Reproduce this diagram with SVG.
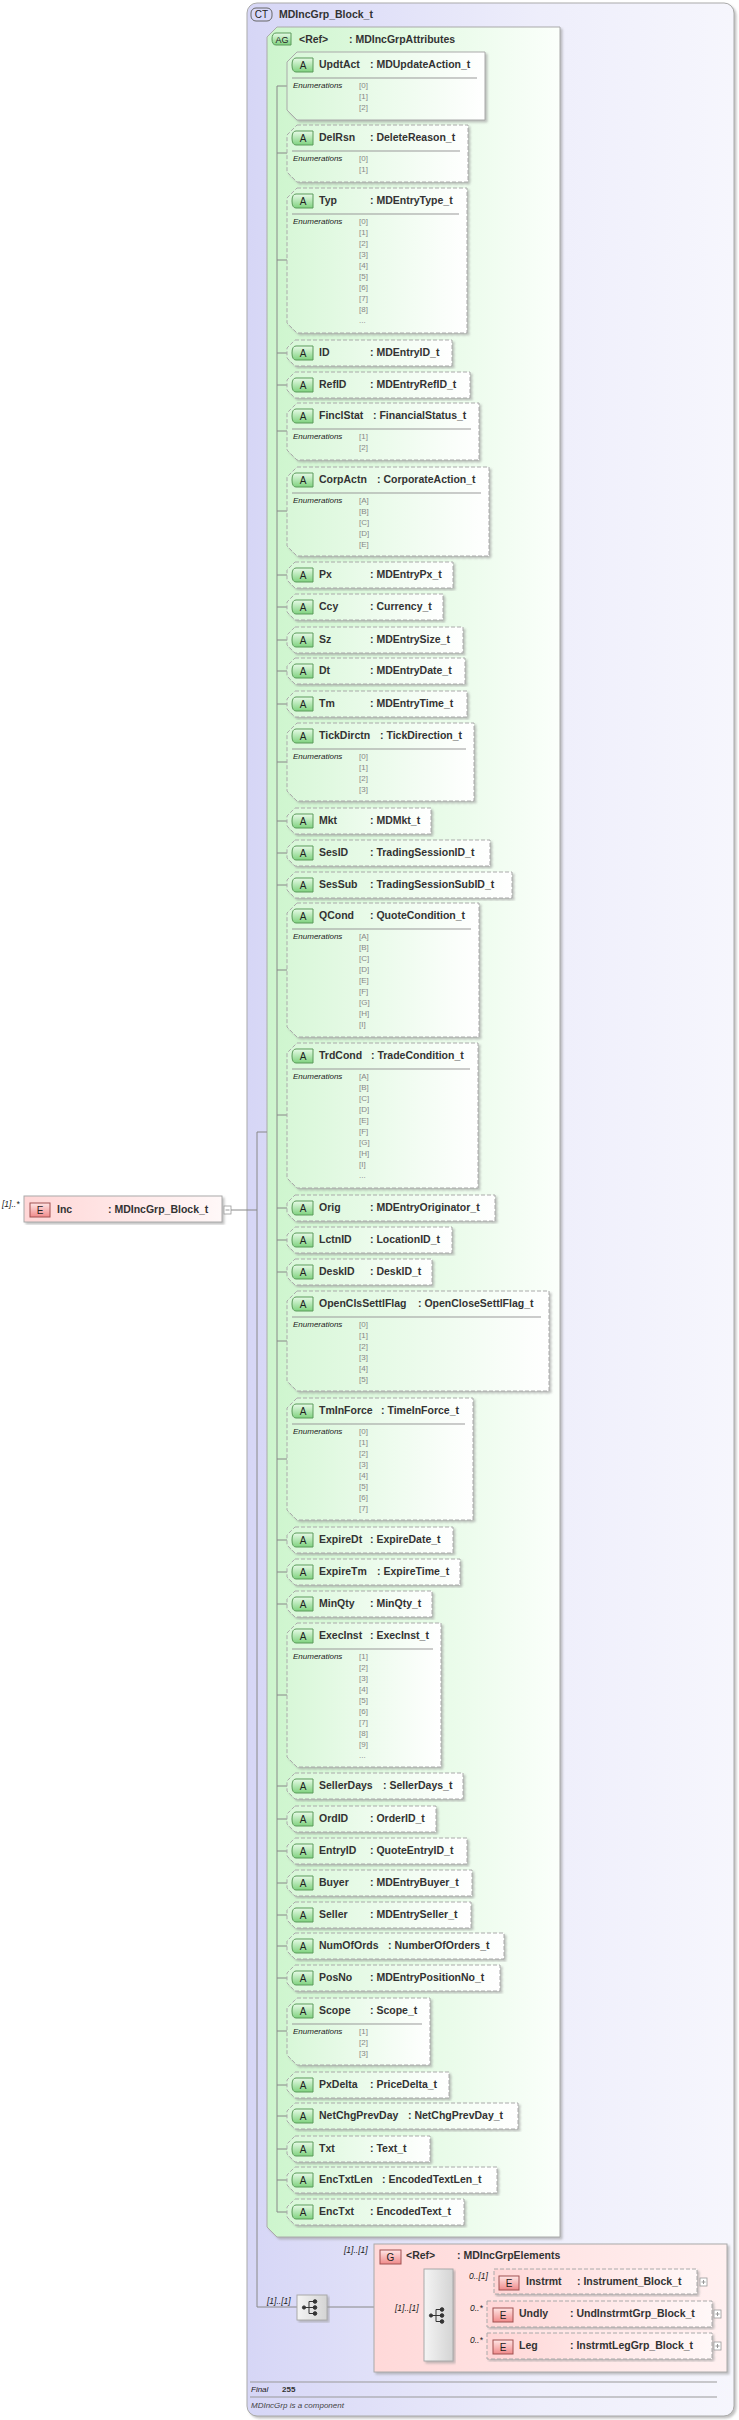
<svg xmlns="http://www.w3.org/2000/svg" width="739" height="2420" viewBox="0 0 739 2420">
<defs>
<linearGradient id="gct" x1="0" y1="0" x2="1" y2="0"><stop offset="0" stop-color="#d6d6f6"/><stop offset="0.6" stop-color="#eeeefb"/><stop offset="1" stop-color="#f6f6fd"/></linearGradient>
<linearGradient id="gag" x1="0" y1="0" x2="1" y2="0"><stop offset="0" stop-color="#cdf5cd"/><stop offset="1" stop-color="#fbfffb"/></linearGradient>
<linearGradient id="ga" x1="0" y1="0" x2="1" y2="0"><stop offset="0" stop-color="#d8f7d8"/><stop offset="1" stop-color="#ffffff"/></linearGradient>
<linearGradient id="gb" x1="0" y1="0" x2="0" y2="1"><stop offset="0" stop-color="#e8fbe8"/><stop offset="1" stop-color="#7fd27f"/></linearGradient>
<linearGradient id="ge" x1="0" y1="0" x2="1" y2="0"><stop offset="0" stop-color="#ffd6d6"/><stop offset="1" stop-color="#fff8f8"/></linearGradient>
<linearGradient id="geb" x1="0" y1="0" x2="0" y2="1"><stop offset="0" stop-color="#ffe6e6"/><stop offset="1" stop-color="#f08a8a"/></linearGradient>
<linearGradient id="gg" x1="0" y1="0" x2="1" y2="0"><stop offset="0" stop-color="#ffd9d9"/><stop offset="1" stop-color="#fff0f0"/></linearGradient>
<linearGradient id="gs" x1="0" y1="0" x2="1" y2="0"><stop offset="0" stop-color="#f4f4f4"/><stop offset="1" stop-color="#d4d4d4"/></linearGradient>
<filter id="sh" x="-5%" y="-5%" width="115%" height="115%"><feDropShadow dx="2" dy="2" stdDeviation="0.8" flood-color="#999" flood-opacity="0.6"/></filter>
</defs>
<style>
.ab{fill:url(#ga);stroke:#aaa;stroke-width:1;stroke-dasharray:4,2;filter:url(#sh)}
.abs{fill:url(#ga);stroke:#aaa;stroke-width:1;filter:url(#sh)}
.badge{fill:url(#gb);stroke:#5a9a5a;stroke-width:1}
.bt{font-family:"Liberation Sans",Arial,sans-serif;font-size:10px;fill:#222;text-anchor:middle}
.nm{font-family:"Liberation Sans",Arial,sans-serif;font-size:10.5px;font-weight:bold;fill:#333}
.sep{stroke:#999;stroke-width:1}
.en{font-family:"Liberation Sans",Arial,sans-serif;font-size:8px;font-style:italic;fill:#222}
.ev{font-family:"Liberation Sans",Arial,sans-serif;font-size:8px;fill:#888}
.cn{fill:none;stroke:#888;stroke-width:1}
.lb{font-family:"Liberation Sans",Arial,sans-serif;font-size:8.5px;font-style:italic;fill:#222}
.eb{fill:url(#ge);stroke:#aaa;stroke-width:1;stroke-dasharray:4,2;filter:url(#sh)}
.ebs{fill:url(#ge);stroke:#aaa;stroke-width:1;filter:url(#sh)}
.ebadge{fill:url(#geb);stroke:#a05050;stroke-width:1}
.pl{fill:#fff;stroke:#999;stroke-width:0.8}
</style>

<g id="ct">
<rect x="247" y="3" width="487" height="2413" rx="10" fill="url(#gct)" stroke="#aaa" filter="url(#sh)"/>
<rect x="251" y="8" width="21" height="13" rx="5" fill="#d8d8f8" stroke="#666"/>
<text class="bt" x="261.5" y="18">CT</text>
<text class="nm" x="279" y="18">MDIncGrp_Block_t</text>
<line class="sep" x1="250" y1="2382" x2="717" y2="2382"/>
<text class="en" x="251" y="2392">Final</text><text class="ev" x="282" y="2392" style="fill:#333;font-weight:bold">255</text>
<line class="sep" x1="250" y1="2397" x2="717" y2="2397"/>
<text class="en" x="251" y="2408" style="fill:#444">MDIncGrp is a component</text>
</g>

<g id="ag">
<path d="M277,27H560V2237H277L267,2227V37Z" fill="url(#gag)" stroke="#aaa" filter="url(#sh)"/>
<path d="M276,33H291V45H276Q272,45 272,39Q272,33 276,33Z" class="badge"/>
<text class="bt" x="282" y="43" style="font-size:9px">AG</text>
<text class="nm" x="299" y="43">&lt;Ref&gt;</text>
<text class="nm" x="349" y="43">: MDIncGrpAttributes</text>
</g>

<g id="connectors">
<path class="cn" d="M231,1210H257M257,1132V2307H297M267,1132H257M327,2307H374M374,2315H424M453,2282H494M453,2314H487M453,2346H487"/>
<path class="cn" d="M277,86V2212"/>
<path class="cn" d="M277,86h10M277,153h10M277,260h10M277,353h10M277,385h10M277,431h10M277,511h10M277,575h10M277,607h10M277,640h10M277,671h10M277,704h10M277,762h10M277,821h10M277,853h10M277,885h10M277,970h10M277,1115h10M277,1208h10M277,1240h10M277,1272h10M277,1341h10M277,1459h10M277,1540h10M277,1572h10M277,1604h10M277,1695h10M277,1786h10M277,1819h10M277,1851h10M277,1883h10M277,1915h10M277,1946h10M277,1978h10M277,2031h10M277,2085h10M277,2116h10M277,2149h10M277,2180h10M277,2212h10"/>
</g>

<g id="inc">
<text class="lb" x="2" y="1207">[1]..*</text>
<rect x="24" y="1196" width="198" height="26" class="ebs"/>
<rect x="30" y="1203" width="20" height="14" class="ebadge"/>
<text class="bt" x="40" y="1214">E</text>
<text class="nm" x="57" y="1213">Inc</text>
<text class="nm" x="108" y="1213">: MDIncGrp_Block_t</text>
<rect x="224" y="1206" width="7" height="8" class="pl"/><line x1="225.5" y1="1210" x2="229.5" y2="1210" stroke="#999"/>
</g>

<g id="a-UpdtAct" transform="translate(287,52)"><path class="abs" d="M10,0H198V68H10L0,58V10Z"/><path class="badge" d="M9,6H26V20H9Q5,20 5,13Q5,6 9,6Z"/><text class="bt" x="16" y="17">A</text><text class="nm" x="32" y="16">UpdtAct</text><text class="nm" x="83" y="16">: MDUpdateAction_t</text><line class="sep" x1="5" y1="26" x2="190" y2="26"/><text class="en" x="6" y="36">Enumerations</text><text class="ev" y="36"><tspan x="72">[0]</tspan><tspan x="72" dy="11">[1]</tspan><tspan x="72" dy="11">[2]</tspan></text></g>
<g id="a-DelRsn" transform="translate(287,125)"><path class="ab" d="M10,0H181V57H10L0,47V10Z"/><path class="badge" d="M9,6H26V20H9Q5,20 5,13Q5,6 9,6Z"/><text class="bt" x="16" y="17">A</text><text class="nm" x="32" y="16">DelRsn</text><text class="nm" x="83" y="16">: DeleteReason_t</text><line class="sep" x1="5" y1="26" x2="173" y2="26"/><text class="en" x="6" y="36">Enumerations</text><text class="ev" y="36"><tspan x="72">[0]</tspan><tspan x="72" dy="11">[1]</tspan></text></g>
<g id="a-Typ" transform="translate(287,188)"><path class="ab" d="M10,0H180V145H10L0,135V10Z"/><path class="badge" d="M9,6H26V20H9Q5,20 5,13Q5,6 9,6Z"/><text class="bt" x="16" y="17">A</text><text class="nm" x="32" y="16">Typ</text><text class="nm" x="83" y="16">: MDEntryType_t</text><line class="sep" x1="5" y1="26" x2="172" y2="26"/><text class="en" x="6" y="36">Enumerations</text><text class="ev" y="36"><tspan x="72">[0]</tspan><tspan x="72" dy="11">[1]</tspan><tspan x="72" dy="11">[2]</tspan><tspan x="72" dy="11">[3]</tspan><tspan x="72" dy="11">[4]</tspan><tspan x="72" dy="11">[5]</tspan><tspan x="72" dy="11">[6]</tspan><tspan x="72" dy="11">[7]</tspan><tspan x="72" dy="11">[8]</tspan><tspan x="72" dy="11">...</tspan></text></g>
<g id="a-ID" transform="translate(287,340)"><path class="ab" d="M8,0H165V26H8L0,18V8Z"/><path class="badge" d="M9,6H26V20H9Q5,20 5,13Q5,6 9,6Z"/><text class="bt" x="16" y="17">A</text><text class="nm" x="32" y="16">ID</text><text class="nm" x="83" y="16">: MDEntryID_t</text></g>
<g id="a-RefID" transform="translate(287,372)"><path class="ab" d="M8,0H183V26H8L0,18V8Z"/><path class="badge" d="M9,6H26V20H9Q5,20 5,13Q5,6 9,6Z"/><text class="bt" x="16" y="17">A</text><text class="nm" x="32" y="16">RefID</text><text class="nm" x="83" y="16">: MDEntryRefID_t</text></g>
<g id="a-FinclStat" transform="translate(287,403)"><path class="ab" d="M10,0H192V57H10L0,47V10Z"/><path class="badge" d="M9,6H26V20H9Q5,20 5,13Q5,6 9,6Z"/><text class="bt" x="16" y="17">A</text><text class="nm" x="32" y="16">FinclStat</text><text class="nm" x="86" y="16">: FinancialStatus_t</text><line class="sep" x1="5" y1="26" x2="184" y2="26"/><text class="en" x="6" y="36">Enumerations</text><text class="ev" y="36"><tspan x="72">[1]</tspan><tspan x="72" dy="11">[2]</tspan></text></g>
<g id="a-CorpActn" transform="translate(287,467)"><path class="ab" d="M10,0H202V89H10L0,79V10Z"/><path class="badge" d="M9,6H26V20H9Q5,20 5,13Q5,6 9,6Z"/><text class="bt" x="16" y="17">A</text><text class="nm" x="32" y="16">CorpActn</text><text class="nm" x="90" y="16">: CorporateAction_t</text><line class="sep" x1="5" y1="26" x2="194" y2="26"/><text class="en" x="6" y="36">Enumerations</text><text class="ev" y="36"><tspan x="72">[A]</tspan><tspan x="72" dy="11">[B]</tspan><tspan x="72" dy="11">[C]</tspan><tspan x="72" dy="11">[D]</tspan><tspan x="72" dy="11">[E]</tspan></text></g>
<g id="a-Px" transform="translate(287,562)"><path class="ab" d="M8,0H166V26H8L0,18V8Z"/><path class="badge" d="M9,6H26V20H9Q5,20 5,13Q5,6 9,6Z"/><text class="bt" x="16" y="17">A</text><text class="nm" x="32" y="16">Px</text><text class="nm" x="83" y="16">: MDEntryPx_t</text></g>
<g id="a-Ccy" transform="translate(287,594)"><path class="ab" d="M8,0H156V26H8L0,18V8Z"/><path class="badge" d="M9,6H26V20H9Q5,20 5,13Q5,6 9,6Z"/><text class="bt" x="16" y="17">A</text><text class="nm" x="32" y="16">Ccy</text><text class="nm" x="83" y="16">: Currency_t</text></g>
<g id="a-Sz" transform="translate(287,627)"><path class="ab" d="M8,0H176V26H8L0,18V8Z"/><path class="badge" d="M9,6H26V20H9Q5,20 5,13Q5,6 9,6Z"/><text class="bt" x="16" y="17">A</text><text class="nm" x="32" y="16">Sz</text><text class="nm" x="83" y="16">: MDEntrySize_t</text></g>
<g id="a-Dt" transform="translate(287,658)"><path class="ab" d="M8,0H178V26H8L0,18V8Z"/><path class="badge" d="M9,6H26V20H9Q5,20 5,13Q5,6 9,6Z"/><text class="bt" x="16" y="17">A</text><text class="nm" x="32" y="16">Dt</text><text class="nm" x="83" y="16">: MDEntryDate_t</text></g>
<g id="a-Tm" transform="translate(287,691)"><path class="ab" d="M8,0H180V26H8L0,18V8Z"/><path class="badge" d="M9,6H26V20H9Q5,20 5,13Q5,6 9,6Z"/><text class="bt" x="16" y="17">A</text><text class="nm" x="32" y="16">Tm</text><text class="nm" x="83" y="16">: MDEntryTime_t</text></g>
<g id="a-TickDirctn" transform="translate(287,723)"><path class="ab" d="M10,0H187V78H10L0,68V10Z"/><path class="badge" d="M9,6H26V20H9Q5,20 5,13Q5,6 9,6Z"/><text class="bt" x="16" y="17">A</text><text class="nm" x="32" y="16">TickDirctn</text><text class="nm" x="93" y="16">: TickDirection_t</text><line class="sep" x1="5" y1="26" x2="179" y2="26"/><text class="en" x="6" y="36">Enumerations</text><text class="ev" y="36"><tspan x="72">[0]</tspan><tspan x="72" dy="11">[1]</tspan><tspan x="72" dy="11">[2]</tspan><tspan x="72" dy="11">[3]</tspan></text></g>
<g id="a-Mkt" transform="translate(287,808)"><path class="ab" d="M8,0H144V26H8L0,18V8Z"/><path class="badge" d="M9,6H26V20H9Q5,20 5,13Q5,6 9,6Z"/><text class="bt" x="16" y="17">A</text><text class="nm" x="32" y="16">Mkt</text><text class="nm" x="83" y="16">: MDMkt_t</text></g>
<g id="a-SesID" transform="translate(287,840)"><path class="ab" d="M8,0H203V26H8L0,18V8Z"/><path class="badge" d="M9,6H26V20H9Q5,20 5,13Q5,6 9,6Z"/><text class="bt" x="16" y="17">A</text><text class="nm" x="32" y="16">SesID</text><text class="nm" x="83" y="16">: TradingSessionID_t</text></g>
<g id="a-SesSub" transform="translate(287,872)"><path class="ab" d="M8,0H225V26H8L0,18V8Z"/><path class="badge" d="M9,6H26V20H9Q5,20 5,13Q5,6 9,6Z"/><text class="bt" x="16" y="17">A</text><text class="nm" x="32" y="16">SesSub</text><text class="nm" x="83" y="16">: TradingSessionSubID_t</text></g>
<g id="a-QCond" transform="translate(287,903)"><path class="ab" d="M10,0H192V134H10L0,124V10Z"/><path class="badge" d="M9,6H26V20H9Q5,20 5,13Q5,6 9,6Z"/><text class="bt" x="16" y="17">A</text><text class="nm" x="32" y="16">QCond</text><text class="nm" x="83" y="16">: QuoteCondition_t</text><line class="sep" x1="5" y1="26" x2="184" y2="26"/><text class="en" x="6" y="36">Enumerations</text><text class="ev" y="36"><tspan x="72">[A]</tspan><tspan x="72" dy="11">[B]</tspan><tspan x="72" dy="11">[C]</tspan><tspan x="72" dy="11">[D]</tspan><tspan x="72" dy="11">[E]</tspan><tspan x="72" dy="11">[F]</tspan><tspan x="72" dy="11">[G]</tspan><tspan x="72" dy="11">[H]</tspan><tspan x="72" dy="11">[I]</tspan></text></g>
<g id="a-TrdCond" transform="translate(287,1043)"><path class="ab" d="M10,0H191V145H10L0,135V10Z"/><path class="badge" d="M9,6H26V20H9Q5,20 5,13Q5,6 9,6Z"/><text class="bt" x="16" y="17">A</text><text class="nm" x="32" y="16">TrdCond</text><text class="nm" x="84" y="16">: TradeCondition_t</text><line class="sep" x1="5" y1="26" x2="183" y2="26"/><text class="en" x="6" y="36">Enumerations</text><text class="ev" y="36"><tspan x="72">[A]</tspan><tspan x="72" dy="11">[B]</tspan><tspan x="72" dy="11">[C]</tspan><tspan x="72" dy="11">[D]</tspan><tspan x="72" dy="11">[E]</tspan><tspan x="72" dy="11">[F]</tspan><tspan x="72" dy="11">[G]</tspan><tspan x="72" dy="11">[H]</tspan><tspan x="72" dy="11">[I]</tspan><tspan x="72" dy="11">...</tspan></text></g>
<g id="a-Orig" transform="translate(287,1195)"><path class="ab" d="M8,0H208V26H8L0,18V8Z"/><path class="badge" d="M9,6H26V20H9Q5,20 5,13Q5,6 9,6Z"/><text class="bt" x="16" y="17">A</text><text class="nm" x="32" y="16">Orig</text><text class="nm" x="83" y="16">: MDEntryOriginator_t</text></g>
<g id="a-LctnID" transform="translate(287,1227)"><path class="ab" d="M8,0H165V26H8L0,18V8Z"/><path class="badge" d="M9,6H26V20H9Q5,20 5,13Q5,6 9,6Z"/><text class="bt" x="16" y="17">A</text><text class="nm" x="32" y="16">LctnID</text><text class="nm" x="83" y="16">: LocationID_t</text></g>
<g id="a-DeskID" transform="translate(287,1259)"><path class="ab" d="M8,0H145V26H8L0,18V8Z"/><path class="badge" d="M9,6H26V20H9Q5,20 5,13Q5,6 9,6Z"/><text class="bt" x="16" y="17">A</text><text class="nm" x="32" y="16">DeskID</text><text class="nm" x="83" y="16">: DeskID_t</text></g>
<g id="a-OpenClsSettlFlag" transform="translate(287,1291)"><path class="ab" d="M10,0H262V100H10L0,90V10Z"/><path class="badge" d="M9,6H26V20H9Q5,20 5,13Q5,6 9,6Z"/><text class="bt" x="16" y="17">A</text><text class="nm" x="32" y="16">OpenClsSettlFlag</text><text class="nm" x="131" y="16">: OpenCloseSettlFlag_t</text><line class="sep" x1="5" y1="26" x2="254" y2="26"/><text class="en" x="6" y="36">Enumerations</text><text class="ev" y="36"><tspan x="72">[0]</tspan><tspan x="72" dy="11">[1]</tspan><tspan x="72" dy="11">[2]</tspan><tspan x="72" dy="11">[3]</tspan><tspan x="72" dy="11">[4]</tspan><tspan x="72" dy="11">[5]</tspan></text></g>
<g id="a-TmInForce" transform="translate(287,1398)"><path class="ab" d="M10,0H186V122H10L0,112V10Z"/><path class="badge" d="M9,6H26V20H9Q5,20 5,13Q5,6 9,6Z"/><text class="bt" x="16" y="17">A</text><text class="nm" x="32" y="16">TmInForce</text><text class="nm" x="94" y="16">: TimeInForce_t</text><line class="sep" x1="5" y1="26" x2="178" y2="26"/><text class="en" x="6" y="36">Enumerations</text><text class="ev" y="36"><tspan x="72">[0]</tspan><tspan x="72" dy="11">[1]</tspan><tspan x="72" dy="11">[2]</tspan><tspan x="72" dy="11">[3]</tspan><tspan x="72" dy="11">[4]</tspan><tspan x="72" dy="11">[5]</tspan><tspan x="72" dy="11">[6]</tspan><tspan x="72" dy="11">[7]</tspan></text></g>
<g id="a-ExpireDt" transform="translate(287,1527)"><path class="ab" d="M8,0H166V26H8L0,18V8Z"/><path class="badge" d="M9,6H26V20H9Q5,20 5,13Q5,6 9,6Z"/><text class="bt" x="16" y="17">A</text><text class="nm" x="32" y="16">ExpireDt</text><text class="nm" x="83" y="16">: ExpireDate_t</text></g>
<g id="a-ExpireTm" transform="translate(287,1559)"><path class="ab" d="M8,0H173V26H8L0,18V8Z"/><path class="badge" d="M9,6H26V20H9Q5,20 5,13Q5,6 9,6Z"/><text class="bt" x="16" y="17">A</text><text class="nm" x="32" y="16">ExpireTm</text><text class="nm" x="90" y="16">: ExpireTime_t</text></g>
<g id="a-MinQty" transform="translate(287,1591)"><path class="ab" d="M8,0H145V26H8L0,18V8Z"/><path class="badge" d="M9,6H26V20H9Q5,20 5,13Q5,6 9,6Z"/><text class="bt" x="16" y="17">A</text><text class="nm" x="32" y="16">MinQty</text><text class="nm" x="83" y="16">: MinQty_t</text></g>
<g id="a-ExecInst" transform="translate(287,1623)"><path class="ab" d="M10,0H154V144H10L0,134V10Z"/><path class="badge" d="M9,6H26V20H9Q5,20 5,13Q5,6 9,6Z"/><text class="bt" x="16" y="17">A</text><text class="nm" x="32" y="16">ExecInst</text><text class="nm" x="83" y="16">: ExecInst_t</text><line class="sep" x1="5" y1="26" x2="146" y2="26"/><text class="en" x="6" y="36">Enumerations</text><text class="ev" y="36"><tspan x="72">[1]</tspan><tspan x="72" dy="11">[2]</tspan><tspan x="72" dy="11">[3]</tspan><tspan x="72" dy="11">[4]</tspan><tspan x="72" dy="11">[5]</tspan><tspan x="72" dy="11">[6]</tspan><tspan x="72" dy="11">[7]</tspan><tspan x="72" dy="11">[8]</tspan><tspan x="72" dy="11">[9]</tspan><tspan x="72" dy="11">...</tspan></text></g>
<g id="a-SellerDays" transform="translate(287,1773)"><path class="ab" d="M8,0H176V26H8L0,18V8Z"/><path class="badge" d="M9,6H26V20H9Q5,20 5,13Q5,6 9,6Z"/><text class="bt" x="16" y="17">A</text><text class="nm" x="32" y="16">SellerDays</text><text class="nm" x="96" y="16">: SellerDays_t</text></g>
<g id="a-OrdID" transform="translate(287,1806)"><path class="ab" d="M8,0H149V26H8L0,18V8Z"/><path class="badge" d="M9,6H26V20H9Q5,20 5,13Q5,6 9,6Z"/><text class="bt" x="16" y="17">A</text><text class="nm" x="32" y="16">OrdID</text><text class="nm" x="83" y="16">: OrderID_t</text></g>
<g id="a-EntryID" transform="translate(287,1838)"><path class="ab" d="M8,0H180V26H8L0,18V8Z"/><path class="badge" d="M9,6H26V20H9Q5,20 5,13Q5,6 9,6Z"/><text class="bt" x="16" y="17">A</text><text class="nm" x="32" y="16">EntryID</text><text class="nm" x="83" y="16">: QuoteEntryID_t</text></g>
<g id="a-Buyer" transform="translate(287,1870)"><path class="ab" d="M8,0H185V26H8L0,18V8Z"/><path class="badge" d="M9,6H26V20H9Q5,20 5,13Q5,6 9,6Z"/><text class="bt" x="16" y="17">A</text><text class="nm" x="32" y="16">Buyer</text><text class="nm" x="83" y="16">: MDEntryBuyer_t</text></g>
<g id="a-Seller" transform="translate(287,1902)"><path class="ab" d="M8,0H184V26H8L0,18V8Z"/><path class="badge" d="M9,6H26V20H9Q5,20 5,13Q5,6 9,6Z"/><text class="bt" x="16" y="17">A</text><text class="nm" x="32" y="16">Seller</text><text class="nm" x="83" y="16">: MDEntrySeller_t</text></g>
<g id="a-NumOfOrds" transform="translate(287,1933)"><path class="ab" d="M8,0H217V26H8L0,18V8Z"/><path class="badge" d="M9,6H26V20H9Q5,20 5,13Q5,6 9,6Z"/><text class="bt" x="16" y="17">A</text><text class="nm" x="32" y="16">NumOfOrds</text><text class="nm" x="101" y="16">: NumberOfOrders_t</text></g>
<g id="a-PosNo" transform="translate(287,1965)"><path class="ab" d="M8,0H213V26H8L0,18V8Z"/><path class="badge" d="M9,6H26V20H9Q5,20 5,13Q5,6 9,6Z"/><text class="bt" x="16" y="17">A</text><text class="nm" x="32" y="16">PosNo</text><text class="nm" x="83" y="16">: MDEntryPositionNo_t</text></g>
<g id="a-Scope" transform="translate(287,1998)"><path class="ab" d="M10,0H143V67H10L0,57V10Z"/><path class="badge" d="M9,6H26V20H9Q5,20 5,13Q5,6 9,6Z"/><text class="bt" x="16" y="17">A</text><text class="nm" x="32" y="16">Scope</text><text class="nm" x="83" y="16">: Scope_t</text><line class="sep" x1="5" y1="26" x2="135" y2="26"/><text class="en" x="6" y="36">Enumerations</text><text class="ev" y="36"><tspan x="72">[1]</tspan><tspan x="72" dy="11">[2]</tspan><tspan x="72" dy="11">[3]</tspan></text></g>
<g id="a-PxDelta" transform="translate(287,2072)"><path class="ab" d="M8,0H162V26H8L0,18V8Z"/><path class="badge" d="M9,6H26V20H9Q5,20 5,13Q5,6 9,6Z"/><text class="bt" x="16" y="17">A</text><text class="nm" x="32" y="16">PxDelta</text><text class="nm" x="83" y="16">: PriceDelta_t</text></g>
<g id="a-NetChgPrevDay" transform="translate(287,2103)"><path class="ab" d="M8,0H231V26H8L0,18V8Z"/><path class="badge" d="M9,6H26V20H9Q5,20 5,13Q5,6 9,6Z"/><text class="bt" x="16" y="17">A</text><text class="nm" x="32" y="16">NetChgPrevDay</text><text class="nm" x="121" y="16">: NetChgPrevDay_t</text></g>
<g id="a-Txt" transform="translate(287,2136)"><path class="ab" d="M8,0H143V26H8L0,18V8Z"/><path class="badge" d="M9,6H26V20H9Q5,20 5,13Q5,6 9,6Z"/><text class="bt" x="16" y="17">A</text><text class="nm" x="32" y="16">Txt</text><text class="nm" x="83" y="16">: Text_t</text></g>
<g id="a-EncTxtLen" transform="translate(287,2167)"><path class="ab" d="M8,0H210V26H8L0,18V8Z"/><path class="badge" d="M9,6H26V20H9Q5,20 5,13Q5,6 9,6Z"/><text class="bt" x="16" y="17">A</text><text class="nm" x="32" y="16">EncTxtLen</text><text class="nm" x="95" y="16">: EncodedTextLen_t</text></g>
<g id="a-EncTxt" transform="translate(287,2199)"><path class="ab" d="M8,0H177V26H8L0,18V8Z"/><path class="badge" d="M9,6H26V20H9Q5,20 5,13Q5,6 9,6Z"/><text class="bt" x="16" y="17">A</text><text class="nm" x="32" y="16">EncTxt</text><text class="nm" x="83" y="16">: EncodedText_t</text></g>

<g id="seq1">
<text class="lb" x="267" y="2304">[1]..[1]</text>
<rect x="297" y="2295" width="30" height="25" fill="url(#gs)" stroke="#aaa" filter="url(#sh)"/>
<g stroke="#333" fill="#333"><path d="M304,2307.5H309M309,2301.5V2313.5M309,2301.5H314M309,2307.5H314M309,2313.5H314" fill="none"/><circle cx="304" cy="2307.5" r="1.6"/><circle cx="315" cy="2301.5" r="1.8"/><circle cx="315" cy="2307.5" r="1.8"/><circle cx="315" cy="2313.5" r="1.8"/></g>
</g>

<g id="grp">
<text class="lb" x="344" y="2253">[1]..[1]</text>
<rect x="374" y="2244" width="353" height="128" fill="url(#gg)" stroke="#aaa" filter="url(#sh)"/>
<rect x="380" y="2250" width="21" height="14" class="ebadge"/>
<text class="bt" x="390.5" y="2261">G</text>
<text class="nm" x="406" y="2259">&lt;Ref&gt;</text>
<text class="nm" x="457" y="2259">: MDIncGrpElements</text>
<text class="lb" x="395" y="2311">[1]..[1]</text>
</g>

<g id="seq2">
<rect x="424" y="2269" width="29" height="92" fill="url(#gs)" stroke="#aaa" filter="url(#sh)"/>
<g stroke="#333" fill="#333"><path d="M431,2315.5H436M436,2309.5V2321.5M436,2309.5H441M436,2315.5H441M436,2321.5H441" fill="none"/><circle cx="431" cy="2315.5" r="1.6"/><circle cx="442" cy="2309.5" r="1.8"/><circle cx="442" cy="2315.5" r="1.8"/><circle cx="442" cy="2321.5" r="1.8"/></g>
</g>

<g id="e-Instrmt">
<text class="lb" x="469" y="2279">0..[1]</text>
<rect x="494" y="2269" width="203" height="25" class="eb"/>
<rect x="499" y="2276" width="20" height="14" class="ebadge"/>
<text class="bt" x="509" y="2287">E</text>
<text class="nm" x="526" y="2285">Instrmt</text>
<text class="nm" x="577" y="2285">: Instrument_Block_t</text>
<rect x="700" y="2278" width="7" height="8" class="pl"/><path d="M701.5,2282H705.5M703.5,2280V2284" stroke="#999"/>
</g>
<g id="e-Undly">
<text class="lb" x="470" y="2311">0..*</text>
<rect x="487" y="2301" width="225" height="26" class="eb"/>
<rect x="493" y="2308" width="20" height="14" class="ebadge"/>
<text class="bt" x="503" y="2319">E</text>
<text class="nm" x="519" y="2317">Undly</text>
<text class="nm" x="570" y="2317">: UndInstrmtGrp_Block_t</text>
<rect x="714" y="2310" width="7" height="8" class="pl"/><path d="M715.5,2314H719.5M717.5,2312V2316" stroke="#999"/>
</g>
<g id="e-Leg">
<text class="lb" x="470" y="2343">0..*</text>
<rect x="487" y="2333" width="225" height="26" class="eb"/>
<rect x="493" y="2340" width="20" height="14" class="ebadge"/>
<text class="bt" x="503" y="2351">E</text>
<text class="nm" x="519" y="2349">Leg</text>
<text class="nm" x="570" y="2349">: InstrmtLegGrp_Block_t</text>
<rect x="714" y="2342" width="7" height="8" class="pl"/><path d="M715.5,2346H719.5M717.5,2344V2348" stroke="#999"/>
</g>
</svg>
